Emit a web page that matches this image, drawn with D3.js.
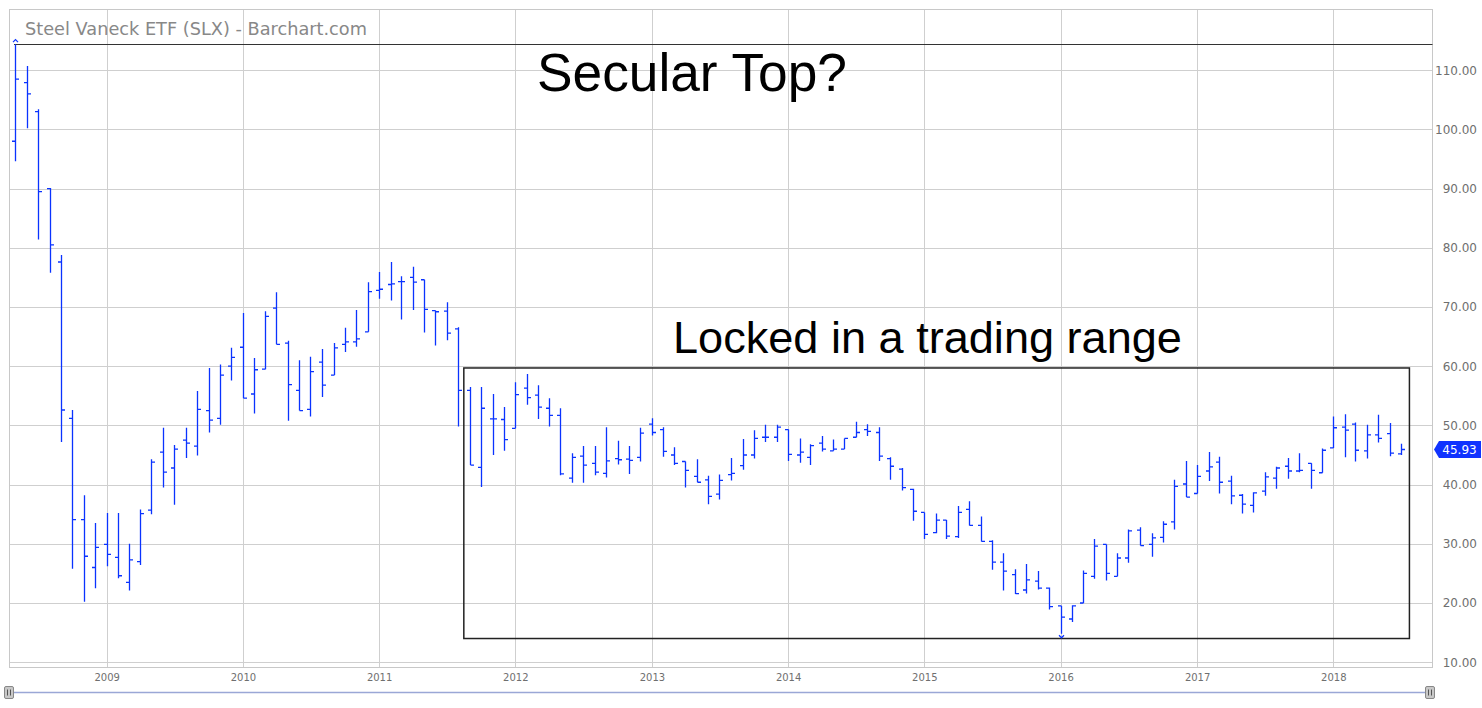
<!DOCTYPE html>
<html><head><meta charset="utf-8">
<script src="https://cdn.jsdelivr.net/npm/d3@7"></script>
<style>body{margin:0;background:#fff;} svg{display:block;font-family:"DejaVu Sans",sans-serif;}</style>
</head><body>
<svg id="c" width="1482" height="708"></svg>
<script>
// ---- data (monthly OHLC, May 2008 .. Jul 2018) ----
const firstMonth = new Date(2008, 4, 1);
const lastMonth = new Date(2018, 6, 1);
const openV  = [98.0,107.9,103.0,90.0,77.6,51.2,34.1,26.0,29.9,27.7,23.5,27.0,35.7,45.5,42.8,47.5,46.5,52.5,51.2,60.0,63.2,55.3,59.5,69.8,63.9,55.9,52.7,60.7,58.5,63.7,64.1,65.8,72.8,73.8,74.3,75.0,74.6,69.4,69.3,66.3,55.9,42.9,51.1,51.0,49.5,56.3,55.1,52.9,51.7,41.1,44.8,43.6,41.9,44.4,44.3,44.6,50.2,49.3,45.0,43.9,41.4,40.8,38.4,41.7,43.2,45.0,48.0,48.0,49.3,45.0,44.6,47.0,45.7,46.0,48.0,49.3,48.8,44.4,42.6,39.2,35.3,31.9,34.0,31.2,35.8,33.1,30.4,26.9,24.8,22.2,23.7,22.5,19.5,17.3,20.0,24.5,29.9,24.5,27.6,32.3,29.9,31.1,33.7,40.1,38.5,42.3,43.8,40.6,38.2,36.5,38.9,41.1,43.1,42.3,43.6,42.0,46.2,49.7,50.2,45.7,48.4,48.6,45.2];
const highV  = [114.4,110.7,103.4,90.1,78.8,52.6,38.2,33.5,35.2,35.2,30.0,35.8,44.3,49.6,46.7,49.6,55.8,59.7,60.3,63.1,69.0,61.4,69.3,72.5,64.3,61.0,61.6,62.9,63.9,66.5,69.5,74.2,75.9,77.6,75.2,76.8,74.6,69.4,70.8,66.6,56.5,56.5,55.3,53.1,57.3,58.7,56.8,54.6,52.9,45.3,46.5,46.5,49.7,47.4,46.5,49.6,51.2,49.7,46.3,43.9,44.3,41.5,41.7,44.5,47.7,49.2,50.1,50.1,49.3,47.8,46.8,48.2,47.6,47.8,50.6,50.2,49.7,44.6,42.8,39.3,35.3,35.1,34.0,36.4,37.2,34.6,30.6,28.4,25.7,26.6,25.4,22.6,19.5,19.6,25.5,30.8,29.9,28.4,32.4,32.8,31.8,33.8,40.8,44.0,43.3,45.5,44.7,41.5,38.4,38.7,42.1,43.0,44.5,45.3,43.6,46.1,51.5,51.9,50.5,50.1,51.8,50.4,46.9];
const lowV   = [94.6,100.2,81.4,75.8,47.2,25.8,20.2,22.5,26.2,24.2,22.1,26.4,35.0,39.5,36.6,44.5,44.9,48.8,50.1,57.6,54.6,52.0,59.5,63.7,50.8,52.5,51.5,54.8,58.5,62.4,63.3,65.8,71.4,71.1,67.9,69.5,65.7,63.5,64.4,49.8,43.3,39.6,45.0,45.7,49.5,53.5,51.1,49.8,41.6,40.3,40.3,41.6,41.2,43.4,41.8,43.9,48.3,44.7,43.3,39.5,40.4,36.7,37.5,40.7,42.5,44.4,47.2,47.2,44.0,43.7,43.3,45.6,45.7,46.0,48.0,48.2,44.0,40.8,39.0,33.9,30.8,31.8,30.8,31.0,33.1,30.4,25.6,22.1,21.5,21.6,22.3,18.9,14.8,16.8,20.0,24.1,23.8,24.5,26.8,29.7,27.8,30.2,32.4,37.9,38.5,40.6,38.5,36.7,35.1,35.3,38.1,39.3,41.0,42.1,39.3,42.0,46.2,44.6,43.9,44.4,47.1,44.8,45.0];
const closeV = [108.5,106.0,89.5,80.5,52.6,34.1,27.9,29.4,28.2,24.6,27.3,35.1,43.8,42.1,46.0,47.0,52.7,50.9,58.5,61.5,54.6,59.4,68.4,63.7,56.9,52.5,59.1,56.8,63.1,64.1,64.6,72.6,73.0,73.9,74.3,74.2,69.6,69.2,65.6,55.9,43.3,52.9,51.1,47.6,55.2,54.7,53.1,51.7,41.8,44.6,43.3,42.1,44.0,44.2,44.1,48.7,48.8,45.6,43.6,42.4,40.4,38.0,40.7,41.9,45.0,47.8,48.0,49.7,45.1,45.5,46.6,46.0,46.0,47.8,48.8,49.0,44.8,43.1,39.5,35.5,31.6,34.0,31.3,35.3,33.1,30.4,26.9,25.4,21.6,23.9,22.5,19.4,17.6,19.5,25.0,29.6,25.0,27.6,32.2,29.7,31.0,33.3,39.7,37.9,41.4,43.0,40.4,38.1,36.7,38.6,41.3,42.8,42.3,42.4,42.4,45.8,49.6,49.2,45.8,48.4,47.8,45.3,45.93];
const yTicks = [10,20,30,40,50,60,70,80,90,100,110];
const xTickYears = [2009,2010,2011,2012,2013,2014,2015,2016,2017,2018];
const titleText = "Steel Vaneck ETF (SLX) - Barchart.com";
const note1 = "Secular Top?";
const note2 = "Locked in a trading range";
const rangeBox = {from: new Date(2011, 7, 16), to: new Date(2018, 6, 24), top: 59.7, bottom: 14.0};
const highLineFrom = new Date(2008, 4, 1);

// ---- layout ----
const svg = d3.select("#c");
const plot = {l: 9.5, t: 9.5, r: 1432.5, b: 667.5};
const x = d3.scaleTime().domain([new Date(2009,0,1), new Date(2018,0,1)]).range([106.7, 1333.3]);
const y = d3.scaleLinear().domain([10,110]).range([662.2, 70.2]);
const months = d3.timeMonth.range(firstMonth, d3.timeMonth.offset(lastMonth,1));
const bars = months.map((d,i)=>({d, o:openV[i], h:highV[i], l:lowV[i], c:closeV[i]}));

// y grid + labels
const yAxis = d3.axisRight(y).tickValues(yTicks).tickFormat(d3.format(".2f"))
  .tickSize(-(plot.r-plot.l)).tickPadding(0);
const gy = svg.append("g").attr("transform",`translate(${plot.r},0)`).call(yAxis);
gy.select(".domain").remove();
gy.selectAll(".tick line").attr("stroke","#cfcfcf").attr("shape-rendering","crispEdges");
gy.selectAll(".tick text").attr("x",44.5).attr("text-anchor","end")
  .attr("fill","#6f6f6f").style("font-size","12px").style("font-family","DejaVu Sans");

// x grid + labels
const xAxis = d3.axisBottom(x).tickValues(xTickYears.map(yy=>new Date(yy,0,1)))
  .tickFormat(d3.timeFormat("%Y")).tickSize(-(plot.b-plot.t)).tickPadding(6);
const gx = svg.append("g").attr("transform",`translate(0,${plot.b})`).call(xAxis);
gx.select(".domain").remove();
gx.selectAll(".tick line").attr("stroke","#cfcfcf").attr("shape-rendering","crispEdges");
gx.selectAll(".tick text").attr("fill","#6f6f6f").style("font-size","10px").style("font-family","DejaVu Sans");

// plot border
svg.append("rect").attr("x",plot.l).attr("y",plot.t).attr("width",plot.r-plot.l).attr("height",plot.b-plot.t)
  .attr("fill","none").attr("stroke","#c8c8c8");

// high line
const hiY = Math.round(y(d3.max(highV)))+0.5;
svg.append("line").attr("x1",Math.round(x(highLineFrom))-1).attr("x2",plot.r).attr("y1",hiY).attr("y2",hiY)
  .attr("stroke","#333").attr("stroke-width",1);

// range box
svg.append("rect").attr("x",x(rangeBox.from)).attr("y",y(rangeBox.top))
  .attr("width",x(rangeBox.to)-x(rangeBox.from)).attr("height",y(rangeBox.bottom)-y(rangeBox.top))
  .attr("fill","none").attr("stroke","#222").attr("stroke-width",1.5);

// OHLC bars
const blue = "#0a33ff";
svg.append("g").selectAll("path").data(bars).join("path")
  .attr("d", b => {
    const cx = Math.round(x(b.d)) + 0.5;
    return `M${cx},${y(b.h)}V${y(b.l)}M${cx-3.5},${y(b.o)}H${cx}M${cx},${y(b.c)}H${cx+3.5}`;
  })
  .attr("fill","none").attr("stroke",blue).attr("stroke-width",1.3);

// high / low markers
const hiBar = bars[d3.maxIndex(bars, b=>b.h)], loBar = bars[d3.minIndex(bars, b=>b.l)];
const hx = Math.round(x(hiBar.d))+0.5, lx = Math.round(x(loBar.d))+0.5;
svg.append("path").attr("d",`M${hx-2.5},${y(hiBar.h)-2}L${hx},${y(hiBar.h)-4.5}L${hx+2.5},${y(hiBar.h)-2}`)
  .attr("fill","none").attr("stroke",blue).attr("stroke-width",1.2);
svg.append("path").attr("d",`M${lx-2.5},${y(loBar.l)+1.5}L${lx},${y(loBar.l)+4}L${lx+2.5},${y(loBar.l)+1.5}`)
  .attr("fill","none").attr("stroke",blue).attr("stroke-width",1.2);

// last value label
const lastC = closeV[closeV.length-1];
const ly = y(lastC);
svg.append("path").attr("d",`M1434,${ly}L1439,${ly-8.5}H1481V${ly+8.5}H1439Z`).attr("fill","#1033ff");
svg.append("text").attr("x",1459.5).attr("y",ly+4.5).attr("text-anchor","middle").attr("fill","#fff")
  .style("font-size","12px").text(d3.format(".2f")(lastC));

// texts fitted to widths
function fitText(sel, w){ const n=sel.node(); const fs=parseFloat(n.style.fontSize); const cur=n.getComputedTextLength(); sel.style("font-size",(fs*w/cur)+"px"); }
const t0 = svg.append("text").attr("x",25).attr("y",35).attr("fill","#888").style("font-size","17px").text(titleText);
fitText(t0, 342);
const t1 = svg.append("text").attr("x",537).attr("y",91).attr("fill","#000")
  .style("font-family","'Liberation Sans', Arial, sans-serif").style("font-size","50px").text(note1);
fitText(t1, 310);
const t2 = svg.append("text").attr("x",673).attr("y",353).attr("fill","#000")
  .style("font-family","'Liberation Sans', Arial, sans-serif").style("font-size","42px").text(note2);
fitText(t2, 509);

// scrollbar
const sbY = 692.5;
svg.append("line").attr("x1",12).attr("x2",1429).attr("y1",sbY).attr("y2",sbY).attr("stroke","#9aa7d6").attr("stroke-width",1.5);
[9,1430].forEach(cx=>{
  svg.append("rect").attr("x",cx-4.5).attr("y",sbY-6).attr("width",9).attr("height",12).attr("rx",1.5)
    .attr("fill","#c8c8c8").attr("stroke","#888");
  svg.append("path").attr("d",`M${cx-1.5},${sbY-3}V${sbY+3}M${cx+1.5},${sbY-3}V${sbY+3}`).attr("stroke","#555");
});
</script>
</body></html>
